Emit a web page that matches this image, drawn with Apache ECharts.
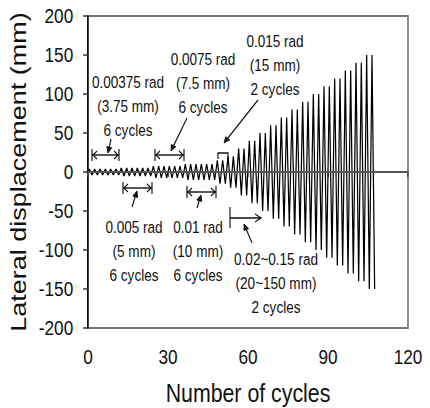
<!DOCTYPE html>
<html>
<head>
<meta charset="utf-8">
<script src="https://cdn.jsdelivr.net/npm/echarts@6/dist/echarts.min.js"></script>
<style>
  html, body { margin: 0; padding: 0; background: #fff; overflow: hidden; width: 430px; height: 408px; }
  /* the original figure is a horizontally squeezed Arial plot: draw wide, squeeze to 430px */
  #main { width: 524px; height: 408px; transform: scaleX(0.8206); transform-origin: 0 0; }
</style>
</head>
<body>
<div id="main"></div>
<script>
// loading protocol: amplitude of each step (mm) and number of cycles at that step
var stepAmp = [3.75, 5, 7.5, 10, 15, 20, 30, 40, 50, 60, 70, 80, 90, 100, 110, 120, 130, 140, 150];
var stepCycles = [6, 6, 6, 6, 2, 2, 2, 2, 2, 2, 2, 2, 2, 2, 2, 2, 2, 2, 2];
var xTicks = [0, 30, 60, 90, 120];
var yTicks = [-200, -150, -100, -50, 0, 50, 100, 150, 200];

var SQ = 0.8206;
var FONT = "'Liberation Sans', Arial, sans-serif";

(function () {
    var chart = echarts.init(document.getElementById('main'), null, { renderer: 'svg' });

    // each cycle: up to +A then down to -A (2 axis units per cycle)
    var pts = [[0, 0]];
    var x = 0;
    for (var i = 0; i < stepAmp.length; i++) {
        for (var c = 0; c < stepCycles[i]; c++) {
            pts.push([x + 0.5, stepAmp[i]]);
            pts.push([x + 1.5, -stepAmp[i]]);
            x += 2;
        }
    }

    var ink = '#111';
    // annotation geometry is read in screen pixels; x is unsqueezed here
    function P(px, py) { return [px / SQ, py]; }
    function seg(x1, y1, x2, y2) { return { type: 'polyline', shape: { points: [P(x1, y1), P(x2, y2)] } }; }

    function dblArrow(x1, x2, y) {
        var h = 6, a = 5, b = 4;
        return [
            seg(x1, y, x2, y), seg(x1, y - h, x1, y + h), seg(x2, y - h, x2, y + h),
            { type: 'polyline', shape: { points: [P(x1 + a, y - b), P(x1 + 1, y), P(x1 + a, y + b)] } },
            { type: 'polyline', shape: { points: [P(x2 - a, y - b), P(x2 - 1, y), P(x2 - a, y + b)] } }
        ];
    }
    function pointer(x1, y1, x2, y2) {
        var ang = Math.atan2(y2 - y1, x2 - x1), L = 6, W = 2.5;
        var bx = x2 - L * Math.cos(ang), by = y2 - L * Math.sin(ang);
        var nx = -Math.sin(ang) * W, ny = Math.cos(ang) * W;
        return [
            seg(x1, y1, bx, by),
            { type: 'polygon', shape: { points: [P(x2, y2), P(bx + nx, by + ny), P(bx - nx, by - ny)] },
              style: { fill: ink, stroke: ink, lineWidth: 1 } }
        ];
    }
    function label(txt, cx, cy) {
        return { type: 'text', x: cx / SQ, y: cy, style: {
            text: txt, font: '16.5px ' + FONT, fill: ink,
            align: 'center', verticalAlign: 'middle', lineHeight: 24 } };
    }

    var shapes = [];
    shapes = shapes.concat(dblArrow(92, 119, 155), dblArrow(155, 184, 155),
        dblArrow(123, 152, 188), dblArrow(187, 216, 192));
    // bracket over the 15 mm cycles
    shapes.push({ type: 'polyline', shape: { points: [P(218, 159), P(218, 153), P(228, 153), P(228, 159)] } });
    // 0.02~0.15 rad start marker
    shapes.push(seg(230, 207, 230, 228));
    shapes.push(seg(230, 218, 261, 218));
    shapes.push({ type: 'polyline', shape: { points: [P(255, 214), P(261, 218), P(255, 222)] } });
    shapes = shapes.concat(pointer(111, 139, 108, 153), pointer(187, 118, 171, 151),
        pointer(258, 100, 224, 143), pointer(132, 207, 137, 191),
        pointer(197, 208, 201, 195), pointer(252, 243, 244, 224));
    shapes.forEach(function (s) {
        if (!s.style) s.style = { stroke: ink, lineWidth: 1.4, fill: null };
    });
    shapes.push(label('0.00375 rad\n(3.75 mm)\n6 cycles', 128, 106));
    shapes.push(label('0.0075 rad\n(7.5 mm)\n6 cycles', 203, 83));
    shapes.push(label('0.015 rad\n(15 mm)\n2 cycles', 275, 65));
    shapes.push(label('0.005 rad\n(5 mm)\n6 cycles', 134, 251));
    shapes.push(label('0.01 rad\n(10 mm)\n6 cycles', 198, 251));
    shapes.push(label('0.02~0.15 rad\n(20~150 mm)\n2 cycles', 276, 283));

    var option = {
        animation: false,
        grid: {
            left: 88 / SQ, right: 22 / SQ, top: 16, bottom: 80,
            outerBoundsMode: 'none',
            show: true, borderColor: '#777', borderWidth: 2, backgroundColor: '#fff'
        },
        xAxis: {
            type: 'value',
            min: xTicks[0], max: xTicks[xTicks.length - 1], interval: xTicks[1] - xTicks[0],
            name: 'Number of cycles', nameLocation: 'middle', nameGap: 52,
            nameTextStyle: { fontFamily: FONT, fontSize: 26, color: ink },
            axisLine: { show: true, lineStyle: { color: '#444', width: 2 } },
            axisTick: { show: true, inside: false, length: 5, lineStyle: { color: '#444', width: 1.8 } },
            axisLabel: { fontFamily: FONT, fontSize: 21, color: ink, margin: 18 },
            splitLine: { show: false }
        },
        yAxis: {
            type: 'value',
            min: yTicks[0], max: yTicks[yTicks.length - 1], interval: yTicks[1] - yTicks[0],
            name: 'Lateral displacement (mm)', nameLocation: 'middle', nameGap: 55, nameRotate: 90,
            nameTextStyle: { fontFamily: FONT, fontSize: 27, color: ink },
            axisLine: { show: true, onZero: false, lineStyle: { color: '#111', width: 2 } },
            axisTick: { show: true, inside: false, length: 6, lineStyle: { color: '#333', width: 1.5 } },
            axisLabel: { fontFamily: FONT, fontSize: 21, color: ink, margin: 18 },
            splitLine: { show: false }
        },
        series: [{
            type: 'line',
            data: pts,
            showSymbol: false,
            symbol: 'none',
            lineStyle: { color: '#000', width: 1.5 },
            markLine: {
                silent: true, symbol: 'none', label: { show: false },
                lineStyle: { color: '#555', width: 2, type: 'solid' },
                data: [{ yAxis: 0 }]
            },
            z: 3
        }],
        graphic: shapes.map(function (s) { s.z = 100; return s; })
    };
    chart.setOption(option);
})();
</script>
</body>
</html>
